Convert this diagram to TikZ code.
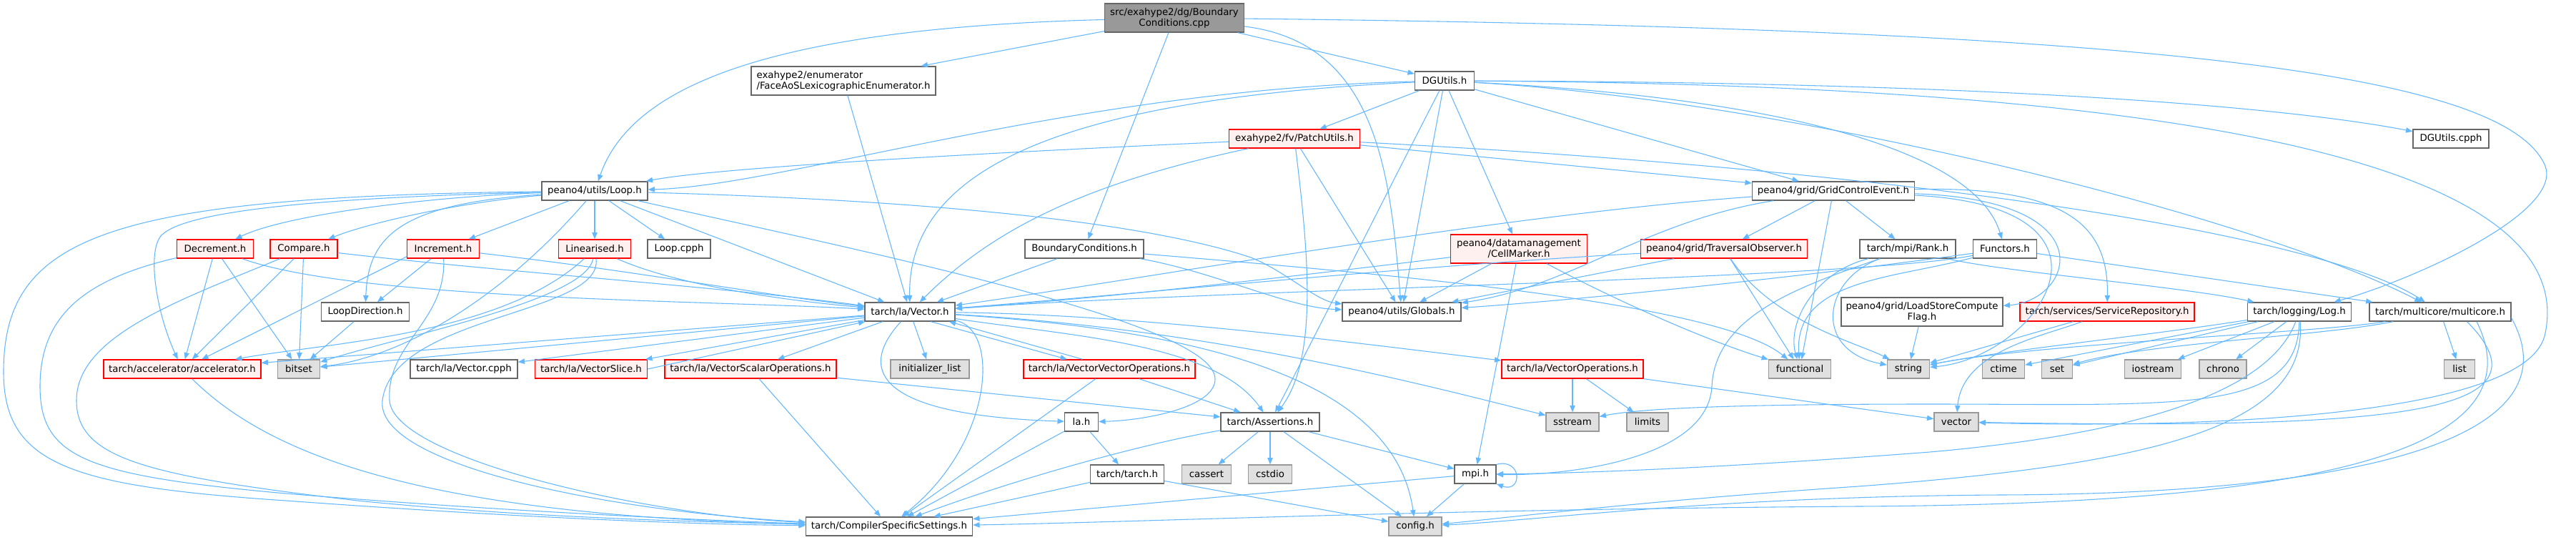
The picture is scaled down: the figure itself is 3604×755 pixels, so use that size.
\documentclass[tikz,border=0pt]{standalone}
\usepackage{fontspec}
\setmainfont{DejaVu Sans}
\usetikzlibrary{arrows.meta}
\definecolor{edgeblue}{HTML}{63B8FF}
\definecolor{boxgrey}{HTML}{666666}
\definecolor{sysgrey}{HTML}{999999}
\definecolor{sysfill}{HTML}{E0E0E0}
\definecolor{truncfill}{HTML}{FFF0F0}
\definecolor{rootfill}{HTML}{999999}
\tikzset{file/.style={draw=boxgrey,fill=white,line width=1pt,inner xsep=4pt,inner ysep=1pt,
  minimum height=19.5pt,font=\fontsize{10}{11.3}\selectfont},
 twoline/.style={minimum height=30pt,align=center},
 trunc/.style={draw=red,fill=truncfill},
 sys/.style={draw=sysgrey,fill=sysfill},
 root/.style={fill=rootfill},
 dep/.style={draw=edgeblue,line width=0.8pt,-{Triangle[length=7pt,width=5.5pt]}}}
\begin{document}
\begin{tikzpicture}[x=0.75pt,y=-0.75pt]
\path[fill=white,use as bounding box] (0,0) rectangle (3604,755);

\node[file,twoline,root,minimum width=146.25pt] (cpp) at (1643,25) {src/exahype2/dg/Boundary\\Conditions.cpp};
\node[file,twoline,align=left,minimum width=193.5pt] (face) at (1180,113) {exahype2/enumerator\\/FaceAoSLexicographicEnumerator.h};
\node[file,minimum width=62.25pt] (dgutils) at (2021,113) {DGUtils.h};
\node[file,trunc,minimum width=137.25pt] (patch) at (1811,194) {exahype2/fv/PatchUtils.h};
\node[file,minimum width=79.5pt] (dgcpph) at (3429,194) {DGUtils.cpph};
\node[file,minimum width=111pt] (loop) at (832,267) {peano4/utils/Loop.h};
\node[file,minimum width=170.25pt] (gridctrl) at (2565,267) {peano4/grid/GridControlEvent.h};

\node[file,trunc,minimum width=80.25pt] (decr) at (301,348) {Decrement.h};
\node[file,trunc,minimum width=70.5pt] (comp) at (425,348) {Compare.h};
\node[file,trunc,minimum width=75.75pt] (incr) at (620,348) {Increment.h};
\node[file,trunc,minimum width=75.75pt] (lin) at (832,348) {Linearised.h};
\node[file,minimum width=66pt] (loopcpph) at (950,348) {Loop.cpph};
\node[file,minimum width=124.5pt] (bch) at (1517,348) {BoundaryConditions.h};
\node[file,twoline,trunc,minimum width=143.25pt] (cellmarker) at (2125,348) {peano4/datamanagement\\/CellMarker.h};
\node[file,trunc,minimum width=174.75pt] (traversal) at (2412,348) {peano4/grid/TraversalObserver.h};
\node[file,minimum width=100.5pt] (rank) at (2669,348) {tarch/mpi/Rank.h};
\node[file,minimum width=66.75pt] (functors) at (2805,348) {Functors.h};

\node[file,minimum width=92.25pt] (loopdir) at (511,436) {LoopDirection.h};
\node[file,minimum width=94.5pt] (vec) at (1273,436) {tarch/la/Vector.h};
\node[file,minimum width=124.5pt] (globals) at (1961,436) {peano4/utils/Globals.h};
\node[file,twoline,minimum width=169.5pt] (loadstore) at (2689,436) {peano4/grid/LoadStoreCompute\\Flag.h};
\node[file,trunc,minimum width=183pt] (service) at (2948,436) {tarch/services/ServiceRepository.h};
\node[file,minimum width=108.75pt] (log) at (3217,436) {tarch/logging/Log.h};
\node[file,minimum width=148.5pt] (multicore) at (3414,436) {tarch/multicore/multicore.h};

\node[file,trunc,minimum width=165pt] (accel) at (255,516) {tarch/accelerator/accelerator.h};
\node[file,sys,minimum width=44.25pt] (bitset) at (418,516) {bitset};
\node[file,minimum width=112.5pt] (veccpph) at (649,516) {tarch/la/Vector.cpph};
\node[file,trunc,minimum width=117.75pt] (vecslice) at (827,516) {tarch/la/VectorSlice.h};
\node[file,trunc,minimum width=180pt] (vecscalar) at (1050,516) {tarch/la/VectorScalarOperations.h};
\node[file,sys,minimum width=82.5pt] (initlist) at (1301,516) {initializer\_list};
\node[file,trunc,minimum width=180pt] (vecvec) at (1552,516) {tarch/la/VectorVectorOperations.h};
\node[file,trunc,minimum width=148.5pt] (vecops) at (2200,516) {tarch/la/VectorOperations.h};
\node[file,sys,minimum width=65.25pt] (functional) at (2518,516) {functional};
\node[file,sys,minimum width=44.25pt] (string) at (2670,516) {string};
\node[file,sys,minimum width=44.25pt] (ctime) at (2803,516) {ctime};
\node[file,sys,minimum width=32.25pt] (set) at (2878,516) {set};
\node[file,sys,minimum width=59.25pt] (iostream) at (3012,516) {iostream};
\node[file,sys,minimum width=49.5pt] (chrono) at (3110,516) {chrono};
\node[file,sys,minimum width=32.25pt] (list) at (3441,516) {list};

\node[file,minimum width=35.25pt] (la) at (1513,590) {la.h};
\node[file,minimum width=103.5pt] (assertions) at (1777,590) {tarch/Assertions.h};
\node[file,sys,minimum width=55.5pt] (sstream) at (2200,590) {sstream};
\node[file,sys,minimum width=43.5pt] (limits) at (2305,590) {limits};
\node[file,sys,minimum width=46.5pt] (vector) at (2737,590) {vector};
\node[file,minimum width=77.25pt] (tarch) at (1577,663) {tarch/tarch.h};
\node[file,sys,minimum width=51.75pt] (cassert) at (1688,663) {cassert};
\node[file,sys,minimum width=45.75pt] (cstdio) at (1777,663) {cstdio};
\node[file,minimum width=43.5pt] (mpi) at (2064,663) {mpi.h};
\node[file,minimum width=174.75pt] (compiler) at (1244,736) {tarch/CompilerSpecificSettings.h};
\node[file,sys,minimum width=55.5pt] (config) at (1980,736) {config.h};

\draw[dep] (cpp) .. controls (1050,40) and (880,130) .. (loop);
\draw[dep] (cpp) -- (face);
\draw[dep] (cpp) -- (bch);
\draw[dep] (cpp) -- (dgutils);
\draw[dep] (cpp) .. controls (1930,60) and (1945,250) .. (globals);
\draw[dep] (cpp) .. controls (3000,40) and (3500,100) .. (3560,230) .. controls (3590,295) and (3380,390) .. (log);
\draw[dep] (face) -- (vec);

\draw[dep] (dgutils) -- (patch);
\draw[dep] (dgutils) .. controls (1500,125) and (1100,260) .. (loop);
\draw[dep] (dgutils) .. controls (1450,140) and (1270,250) .. (vec);
\draw[dep] (dgutils) -- (globals);
\draw[dep] (dgutils) -- (cellmarker);
\draw[dep] (dgutils) -- (gridctrl);
\draw[dep] (dgutils) .. controls (2800,115) and (3200,150) .. (dgcpph);
\draw[dep] (dgutils) .. controls (2450,135) and (2760,200) .. (functors);
\draw[dep] (dgutils) .. controls (2500,140) and (3150,300) .. (multicore);
\draw[dep] (dgutils) .. controls (1950,250) and (1850,450) .. (assertions);
\draw[dep] (dgutils) .. controls (3350,120) and (3600,300) .. (3560,470) .. controls (3530,580) and (3100,600) .. (vector);

\draw[dep] (patch) .. controls (1350,215) and (1000,235) .. (loop);
\draw[dep] (patch) .. controls (1500,260) and (1380,330) .. (vec);
\draw[dep] (patch) -- (globals);
\draw[dep] (patch) -- (gridctrl);
\draw[dep] (patch) .. controls (2700,240) and (3250,330) .. (multicore);
\draw[dep] (patch) .. controls (1830,350) and (1845,500) .. (assertions);

\draw[dep] (loop) .. controls (600,275) and (400,300) .. (decr);
\draw[dep] (loop) .. controls (650,282) and (520,310) .. (comp);
\draw[dep] (loop) -- (incr);
\draw[dep] (loop) -- (lin);
\draw[dep] (loop) .. controls (560,285) and (515,330) .. (loopdir);
\draw[dep] (loop) -- (loopcpph);
\draw[dep] (loop) .. controls (500,275) and (260,290) .. (225,330) .. controls (205,355) and (220,440) .. (accel);
\draw[dep] (loop) .. controls (700,420) and (560,500) .. (bitset);
\draw[dep] (loop) -- (vec);
\draw[dep] (loop) .. controls (1300,280) and (1600,310) .. (1750,360) .. controls (1800,380) and (1840,420) .. (globals);
\draw[dep] (loop) .. controls (1200,350) and (1700,450) .. (1700,530) .. controls (1700,570) and (1600,588) .. (la);
\draw[dep] (loop) .. controls (150,275) and (5,330) .. (5,520) .. controls (5,650) and (100,680) .. (400,700) .. controls (700,722) and (950,733) .. (compiler);

\draw[dep] (decr) -- (accel);
\draw[dep] (decr) -- (bitset);
\draw[dep] (decr) .. controls (500,420) and (1000,420) .. (vec);
\draw[dep] (decr) .. controls (120,390) and (56,440) .. (56,540) .. controls (56,640) and (120,665) .. (400,690) .. controls (700,715) and (1000,728) .. (compiler);
\draw[dep] (comp) -- (accel);
\draw[dep] (comp) -- (bitset);
\draw[dep] (comp) .. controls (700,380) and (1000,400) .. (vec);
\draw[dep] (comp) .. controls (250,420) and (107,470) .. (107,560) .. controls (107,640) and (200,665) .. (500,700) .. controls (750,725) and (1000,730) .. (compiler);
\draw[dep] (incr) -- (loopdir);
\draw[dep] (incr.192) -- (accel);
\draw[dep] (incr) .. controls (900,380) and (1050,410) .. (vec);
\draw[dep] (incr) .. controls (625,450) and (540,480) .. (545,560) .. controls (550,640) and (900,720) .. (compiler);
\draw[dep] (lin) .. controls (700,470) and (450,480) .. (accel);
\draw[dep] (lin) .. controls (820,420) and (560,470) .. (bitset);
\draw[dep] (lin) .. controls (950,400) and (1100,420) .. (vec);
\draw[dep] (lin) .. controls (845,440) and (550,440) .. (535,560) .. controls (525,650) and (850,715) .. (compiler);
\draw[dep] (loopdir) -- (bitset);
\draw[dep] (accel) .. controls (380,640) and (600,720) .. (compiler);

\draw[dep] (bch) -- (vec);
\draw[dep] (bch) .. controls (1700,380) and (1800,430) .. (globals);
\draw[dep] (bch) .. controls (1900,380) and (2400,420) .. (functional);

\draw[dep] (vec) -- (accel);
\draw[dep] (vec) -- (bitset);
\draw[dep] (vec) -- (veccpph);
\draw[dep] (vec) -- (vecslice);
\draw[dep] (vec) -- (vecscalar);
\draw[dep] (vec) -- (initlist);
\draw[dep] (vec.-25) -- (vecvec.167);
\draw[dep] (vec) .. controls (1205,510) and (1210,580) .. (la);
\draw[dep] (vec) .. controls (1500,470) and (1700,480) .. (assertions);
\draw[dep] (vec) .. controls (1400,460) and (1390,620) .. (compiler);
\draw[dep] (vec) .. controls (1650,460) and (1950,520) .. (config);
\draw[dep] (vec) .. controls (1700,460) and (2000,540) .. (sstream);
\draw[dep] (vec) .. controls (1600,440) and (1900,480) .. (vecops);
\draw[dep] (vecslice.east) -- (vec);
\draw[dep] (vecvec.160) -- (vec.-14);

\draw[dep] (vecscalar) -- (compiler);
\draw[dep] (vecscalar) -- (assertions);
\draw[dep] (vecvec) -- (compiler);
\draw[dep] (vecvec) -- (assertions);
\draw[dep] (vecops) -- (sstream);
\draw[dep] (vecops) -- (limits);
\draw[dep] (vecops) -- (vector);

\draw[dep] (la) -- (compiler);
\draw[dep] (la) -- (tarch);
\draw[dep] (tarch) -- (compiler);
\draw[dep] (tarch) -- (config);
\draw[dep] (assertions) -- (cassert);
\draw[dep] (assertions) -- (cstdio);
\draw[dep] (assertions) .. controls (1600,620) and (1420,670) .. (compiler);
\draw[dep] (assertions) -- (mpi);
\draw[dep] (assertions) -- (config);
\draw[dep] (mpi) -- (config);
\draw[dep] (mpi) -- (compiler);
\draw[dep] (mpi.north east) .. controls (2130,640) and (2130,690) .. (mpi.south east);

\draw[dep] (cellmarker) -- (globals);
\draw[dep] (cellmarker) .. controls (1700,400) and (1500,420) .. (vec);
\draw[dep] (cellmarker) -- (mpi);
\draw[dep] (cellmarker) .. controls (2280,430) and (2400,480) .. (functional);
\draw[dep] (traversal) -- (globals);
\draw[dep] (traversal) .. controls (2000,370) and (1600,410) .. (vec);
\draw[dep] (traversal) -- (functional);
\draw[dep] (traversal) .. controls (2480,450) and (2600,480) .. (string);

\draw[dep] (gridctrl) .. controls (2100,300) and (1600,390) .. (vec);
\draw[dep] (gridctrl) .. controls (2300,310) and (2200,400) .. (globals);
\draw[dep] (gridctrl) -- (traversal);
\draw[dep] (gridctrl) -- (rank);
\draw[dep] (gridctrl) -- (functional);
\draw[dep] (gridctrl) .. controls (2950,280) and (2900,420) .. (loadstore);
\draw[dep] (gridctrl) .. controls (2900,260) and (2950,320) .. (service);
\draw[dep] (gridctrl) .. controls (3000,290) and (2850,500) .. (string);

\draw[dep] (rank) .. controls (2540,380) and (2500,450) .. (functional);
\draw[dep] (rank) .. controls (2550,390) and (2535,490) .. (string);
\draw[dep] (rank) .. controls (2520,400) and (2400,440) .. (2395,540) .. controls (2390,640) and (2200,665) .. (mpi);
\draw[dep] (rank) .. controls (2800,380) and (3050,400) .. (log);
\draw[dep] (loadstore) -- (string);
\draw[dep] (functors) .. controls (2600,390) and (1700,405) .. (vec);
\draw[dep] (functors) .. controls (2500,390) and (2200,420) .. (globals);
\draw[dep] (functors) .. controls (2650,390) and (2510,390) .. (functional);
\draw[dep] (functors) -- (multicore);
\draw[dep] (service) -- (string);
\draw[dep] (service) .. controls (2860,470) and (2745,490) .. (vector);

\draw[dep] (log) .. controls (3000,470) and (2800,490) .. (string);
\draw[dep] (log) -- (ctime);
\draw[dep] (log) -- (set);
\draw[dep] (log) -- (iostream);
\draw[dep] (log) -- (chrono);
\draw[dep] (log) .. controls (3215,580) and (3050,565) .. (2700,565) .. controls (2450,565) and (2300,570) .. (sstream);
\draw[dep] (log) .. controls (3170,560) and (2950,610) .. (2700,632) .. controls (2400,655) and (2200,662) .. (mpi);
\draw[dep] (log) .. controls (3230,600) and (3000,650) .. (2600,680) .. controls (2300,700) and (2100,725) .. (config);

\draw[dep] (multicore) -- (list);
\draw[dep] (multicore) .. controls (3250,470) and (3000,480) .. (set);
\draw[dep] (multicore) .. controls (3250,465) and (2850,480) .. (string);
\draw[dep] (multicore.-20) .. controls (3580,580) and (3350,600) .. (vector);
\draw[dep] (multicore.-5) .. controls (3600,600) and (3350,690) .. (2800,692) .. controls (2400,694) and (2150,728) .. (config);
\draw[dep] (multicore.-15) .. controls (3560,640) and (3200,705) .. (2600,708) .. controls (2000,712) and (1600,730) .. (compiler);
\end{tikzpicture}
\end{document}
